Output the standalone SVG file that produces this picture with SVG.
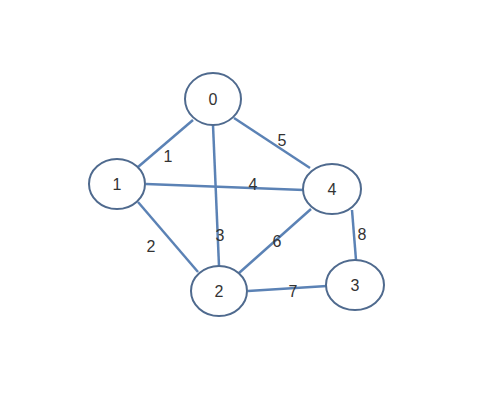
<svg xmlns="http://www.w3.org/2000/svg" width="498" height="401" viewBox="0 0 498 401">
<style>
.edge{stroke:#5b82b5;stroke-width:2.5;fill:none}
.node ellipse{fill:#fff;stroke:#4f6a8e;stroke-width:2}
.node text{font-family:"Liberation Sans","DejaVu Sans",sans-serif;font-size:16px;fill:#333;text-anchor:middle}
.lbl{font-family:"Liberation Sans","DejaVu Sans",sans-serif;font-size:16px;fill:#333;text-anchor:middle}
</style>
<rect width="498" height="401" fill="#fff"/>
<g id="connectors">
<line class="edge" x1="193" y1="120" x2="138" y2="167"/>
<line class="edge" x1="213" y1="125" x2="219" y2="266"/>
<line class="edge" x1="234" y1="118" x2="310" y2="168"/>
<line class="edge" x1="146" y1="184" x2="304" y2="190"/>
<line class="edge" x1="138" y1="202" x2="198" y2="272"/>
<line class="edge" x1="239" y1="273" x2="311" y2="209"/>
<line class="edge" x1="248" y1="291" x2="327" y2="286"/>
<line class="edge" x1="352" y1="210" x2="356" y2="260"/>
<text class="lbl" x="168" y="162">1</text>
<text class="lbl" x="282" y="146">5</text>
<text class="lbl" x="253" y="190">4</text>
<text class="lbl" x="220" y="241">3</text>
<text class="lbl" x="151" y="252">2</text>
<text class="lbl" x="277" y="247">6</text>
<text class="lbl" x="362" y="240">8</text>
<text class="lbl" x="293" y="297">7</text>
</g>
<g id="node0" class="node"><ellipse cx="213" cy="99" rx="28" ry="26"/><text x="213" y="105">0</text></g>
<g id="node1" class="node"><ellipse cx="117" cy="184" rx="28" ry="25"/><text x="117" y="190">1</text></g>
<g id="node4" class="node"><ellipse cx="332" cy="189" rx="29" ry="25"/><text x="332" y="195">4</text></g>
<g id="node2" class="node"><ellipse cx="219" cy="291" rx="28" ry="25"/><text x="219" y="297">2</text></g>
<g id="node3" class="node"><ellipse cx="355" cy="285" rx="29" ry="25"/><text x="355" y="291">3</text></g>
</svg>
